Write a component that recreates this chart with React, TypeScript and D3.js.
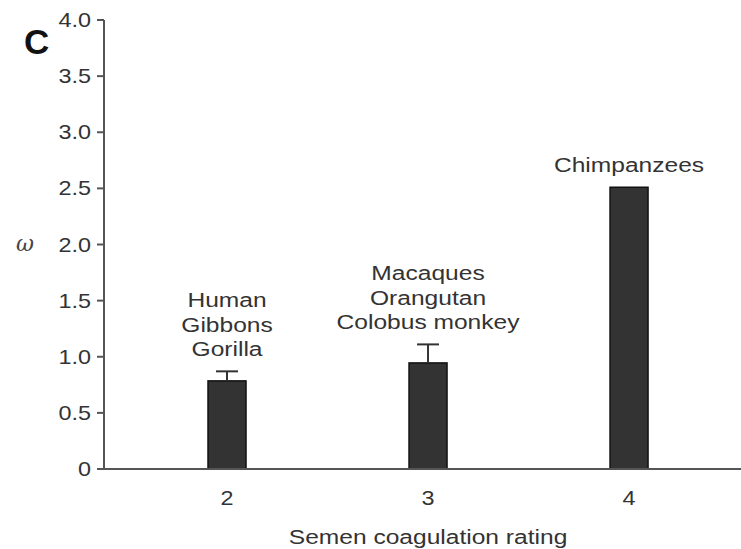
import React from "react";
import * as d3 from "d3";

const ratings = [2, 3, 4];
const omegaValues = [0.785, 0.945, 2.51];
const errorUpper: (number | null)[] = [0.87, 1.11, null];
const groupLabels = [
  ["Human", "Gibbons", "Gorilla"],
  ["Macaques", "Orangutan", "Colobus monkey"],
  ["Chimpanzees"],
];
const yTicks = [0, 0.5, 1.0, 1.5, 2.0, 2.5, 3.0, 3.5, 4.0];
const yTickLabels = ["0", "0.5", "1.0", "1.5", "2.0", "2.5", "3.0", "3.5", "4.0"];
const xTickLabels = ["2", "3", "4"];
const xTitle = "Semen coagulation rating";
const yTitle = "ω";
const panelLabel = "C";

const W = 741;
const H = 549;
const FONT = "'Liberation Sans', Arial, Helvetica, sans-serif";
const SX = 1.17;

function T({ x, y, anchor = "middle", size = 21, children, fill = "#333" }: any) {
  return (
    <text
      transform={`translate(${x},${y}) scale(${SX},1)`}
      textAnchor={anchor}
      fontFamily={FONT}
      fontSize={size}
      fill={fill}
    >
      {children}
    </text>
  );
}

export default function App() {
  const axisX = 104;
  const y = d3.scaleLinear().domain([0, 4]).range([469, 20]);
  const x = d3.scaleLinear().domain([1.388, 4.552]).range([axisX, 740]);
  const barW = 38;
  const capW = 22;
  const axisColor = "#555";

  return (
    <svg
      width={W}
      height={H}
      style={{ position: "absolute", left: 0, top: 0, background: "#fff" }}
    >
      {/* panel label */}
      <text x={24} y={54} fontFamily={FONT} fontWeight="bold" fontSize={35} fill="#111">
        {panelLabel}
      </text>

      {/* y title */}
      <text
        x={25}
        y={251}
        textAnchor="middle"
        fontFamily="'DejaVu Serif', 'Liberation Serif', serif"
        fontStyle="italic"
        fontSize={22}
        fill="#444"
      >
        {yTitle}
      </text>

      {/* bars */}
      {ratings.map((r, i) => (
        <rect
          key={`bar-${r}`}
          x={x(r) - barW / 2}
          y={y(omegaValues[i])}
          width={barW}
          height={y(0) - y(omegaValues[i])}
          fill="#333"
          stroke="#111"
          strokeWidth={1.5}
        />
      ))}

      {/* error bars */}
      {ratings.map((r, i) => {
        const e = errorUpper[i];
        if (e == null) return null;
        return (
          <g key={`err-${r}`} stroke="#333" strokeWidth={2}>
            <line x1={x(r)} x2={x(r)} y1={y(omegaValues[i])} y2={y(e)} />
            <line x1={x(r) - capW / 2} x2={x(r) + capW / 2} y1={y(e)} y2={y(e)} />
          </g>
        );
      })}

      {/* group labels */}
      {ratings.map((r, i) => {
        const top = errorUpper[i] ?? omegaValues[i];
        const lines = groupLabels[i];
        const lastBase = y(top) - 15;
        return (
          <g key={`lab-${r}`}>
            {lines.map((ln, j) => (
              <T key={ln} x={x(r)} y={lastBase - (lines.length - 1 - j) * 24.5}>
                {ln}
              </T>
            ))}
          </g>
        );
      })}

      {/* y axis */}
      <line x1={axisX} x2={axisX} y1={y(4)} y2={y(0)} stroke={axisColor} strokeWidth={2} />
      {yTicks.map((t, i) => (
        <g key={`yt-${t}`}>
          <line x1={axisX - 7} x2={axisX} y1={y(t)} y2={y(t)} stroke={axisColor} strokeWidth={2} />
          <T x={91} y={y(t) + 7} anchor="end" size={20}>
            {yTickLabels[i]}
          </T>
        </g>
      ))}

      {/* x axis */}
      <line x1={axisX - 7} x2={W} y1={y(0)} y2={y(0)} stroke={axisColor} strokeWidth={2} />
      {ratings.map((r, i) => (
        <T key={`xt-${r}`} x={x(r)} y={505} size={20}>
          {xTickLabels[i]}
        </T>
      ))}

      {/* x title */}
      <T x={x(3)} y={544} size={21}>
        {xTitle}
      </T>
    </svg>
  );
}
